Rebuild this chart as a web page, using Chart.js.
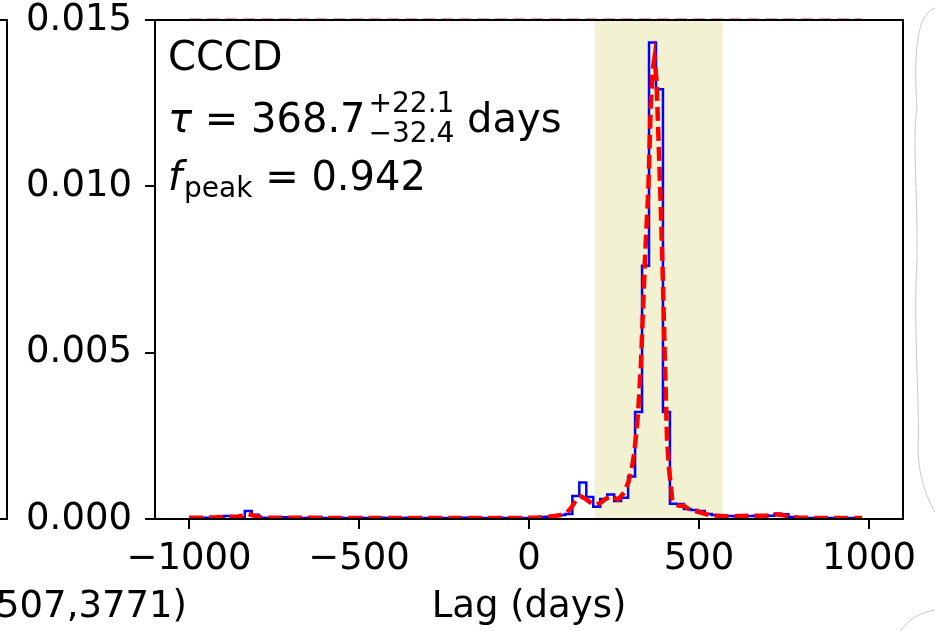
<!DOCTYPE html>
<html>
<head>
<meta charset="utf-8">
<script src="https://cdn.jsdelivr.net/npm/chart.js@4.4.1/dist/chart.umd.min.js"></script>
<style>
  html, body { margin: 0; padding: 0; background: #fff; }
  #wrap { width: 935px; height: 631px; }
</style>
</head>
<body>
<div id="wrap"><canvas id="lagChart" width="935" height="631"></canvas></div>
<script>
// histogram bin centres (days) and density of the CCCD lag distribution
const lagBins = [
  -989.75, -969.25, -948.75, -928.25, -907.75, -887.25, -866.75, -846.25, -825.75, -805.25,
  -784.75, -764.25, -743.75, -723.25, -702.75, -682.25, -661.75, -641.25, -620.75, -600.25,
  -579.75, -559.25, -538.75, -518.25, -497.75, -477.25, -456.75, -436.25, -415.75, -395.25,
  -374.75, -354.25, -333.75, -313.25, -292.75, -272.25, -251.75, -231.25, -210.75, -190.25,
  -169.75, -149.25, -128.75, -108.25, -87.75, -67.25, -46.75, -26.25, -5.75, 14.75,
  35.25, 55.75, 76.25, 96.75, 117.25, 137.75, 158.25, 178.75, 199.25, 219.75,
  240.25, 260.75, 281.25, 301.75, 322.25, 342.75, 363.25, 383.75, 404.25, 424.75,
  445.25, 465.75, 486.25, 506.75, 527.25, 547.75, 568.25, 588.75, 609.25, 629.75,
  650.25, 670.75, 691.25, 711.75, 732.25, 752.75, 773.25, 793.75, 814.25, 834.75,
  855.25, 875.75, 896.25, 916.75, 937.25, 957.75, 978.25
];
const histDensity = [
  0.00003, 0.00003, 0.00004, 0.00003, 0.00004, 0.00009, 0.00004, 0.00005, 0.00024, 0.00013,
  0.00004, 0.00003, 0.00004, 0.00005, 0.00004, 0.00003, 0.00003, 0.00004, 0.00005, 0.00003,
  0.00003, 0.00004, 0.00003, 0.00003, 0.00004, 0.00003, 0.00003, 0.00004, 0.00003, 0.00003,
  0.00003, 0.00004, 0.00003, 0.00003, 0.00003, 0.00004, 0.00003, 0.00003, 0.00003, 0.00004,
  0.00003, 0.00003, 0.00003, 0.00003, 0.00004, 0.00003, 0.00003, 0.00003, 0.00003, 0.00004,
  0.00005, 0.00007, 0.00010, 0.00012, 0.00015, 0.00069, 0.00110, 0.00066, 0.00037, 0.00060,
  0.00074, 0.00054, 0.00064, 0.00128, 0.00322, 0.00761, 0.01432, 0.01292, 0.00322, 0.00046,
  0.00045, 0.00030, 0.00027, 0.00024, 0.00015, 0.00012, 0.00011, 0.00009, 0.00008, 0.00009,
  0.00009, 0.00010, 0.00011, 0.00010, 0.00016, 0.00014, 0.00006, 0.00004, 0.00003, 0.00003,
  0.00003, 0.00003, 0.00003, 0.00003, 0.00003, 0.00003, 0.00003
];
// smoothed curve (red dashed)
const smoothLag = [
  -1000, -960, -920, -890, -860, -840, -825, -810, -790, -760,
  -700, -640, -580, -500, -420, -340, -260, -180, -100, -40,
  20, 60, 90, 110, 125, 140, 152, 165, 180, 191,
  210, 225, 240, 262, 280, 292, 300, 310, 321, 329,
  341, 351, 358, 364, 369, 375, 380, 387, 394, 400,
  406, 412, 421, 430, 441, 455, 470, 490, 510, 530,
  550, 580, 620, 660, 700, 725, 745, 770, 800, 850,
  900, 940, 980
];
const smoothDensity = [
  0.00004, 0.00004, 0.00005, 0.00007, 0.00007, 0.00010, 0.00015, 0.00010, 0.00005, 0.00004,
  0.00004, 0.00004, 0.00003, 0.00003, 0.00003, 0.00003, 0.00003, 0.00003, 0.00003, 0.00003,
  0.00004, 0.00007, 0.00011, 0.00017, 0.00035, 0.00060, 0.00068, 0.00062, 0.00050, 0.00042,
  0.00048, 0.00060, 0.00070, 0.00058, 0.00080, 0.00110, 0.00140, 0.00200, 0.00320, 0.00460,
  0.00780, 0.00990, 0.01240, 0.01350, 0.01386, 0.01320, 0.01170, 0.00960, 0.00710, 0.00460,
  0.00240, 0.00150, 0.00060, 0.00045, 0.00040, 0.00040, 0.00030, 0.00024, 0.00018, 0.00012,
  0.00010, 0.00008, 0.00009, 0.00010, 0.00010, 0.00014, 0.00012, 0.00006, 0.00004, 0.00003,
  0.00003, 0.00003, 0.00003
];
const xTicks = [-1000, -500, 0, 500, 1000];
const yTicks = [0, 0.005, 0.010, 0.015];
const peakWindow = [193, 570];
const panelName = 'CCCD';
const tauValue = ['368.7', '+22.1', '\u221232.4'];
const fPeakValue = '0.942';
const leftPanelLabel = '507,3771)';

const FONT = 'DejaVu Sans';
Chart.defaults.font.family = FONT;

const histPoints = lagBins.map((x, i) => ({ x: x, y: histDensity[i] }));
const smoothPoints = smoothLag.map((x, i) => ({ x: x, y: smoothDensity[i] }));

const decorPlugin = {
  id: 'decor',
  beforeDatasetsDraw(chart) {
    const { ctx, chartArea: a, scales } = chart;
    const x0 = scales.x.getPixelForValue(peakWindow[0]);
    const x1 = scales.x.getPixelForValue(peakWindow[1]);
    ctx.save();
    ctx.fillStyle = 'rgba(188,189,34,0.2)';
    ctx.fillRect(x0, a.top, x1 - x0, a.bottom - a.top);
    ctx.restore();
  },
  afterDatasetsDraw(chart) {
    const { ctx, chartArea: a } = chart;
    const big = '40px ' + FONT, small = '28px ' + FONT;
    ctx.save();
    ctx.fillStyle = '#000';
    ctx.textBaseline = 'alphabetic';
    ctx.textAlign = 'left';
    let x = a.left + 13;
    ctx.font = big;
    ctx.fillText(panelName, x, a.top + 50);

    // tau line
    let y = a.top + 111.5;
    ctx.font = 'italic ' + big;
    ctx.fillText('\u03c4', x, y);
    x += ctx.measureText('\u03c4').width;
    ctx.font = big;
    const mid = ' = ' + tauValue[0];
    ctx.fillText(mid, x, y);
    x += ctx.measureText(mid).width + 3;
    ctx.font = small;
    ctx.fillText(tauValue[1], x, y - 20);
    ctx.fillText(tauValue[2], x, y + 10);
    x += Math.max(ctx.measureText(tauValue[1]).width, ctx.measureText(tauValue[2]).width);
    ctx.font = big;
    ctx.fillText(' days', x, y);

    // f_peak line
    x = a.left + 13;
    y = a.top + 170;
    ctx.font = 'italic ' + big;
    ctx.fillText('f', x, y);
    x += ctx.measureText('f').width + 2;
    ctx.font = small;
    ctx.fillText('peak', x, y + 7);
    x += ctx.measureText('peak').width;
    ctx.font = big;
    ctx.fillText(' = ' + fPeakValue, x, y);
    ctx.restore();
  },
  afterDraw(chart) {
    const { ctx, chartArea: a, scales } = chart;
    ctx.save();
    // upper panel baseline peeking in at the top edge
    ctx.strokeStyle = 'rgba(200,40,40,0.45)';
    ctx.lineWidth = 1;
    ctx.setLineDash([12, 6]);
    ctx.beginPath();
    ctx.moveTo(scales.x.getPixelForValue(-1000), a.top - 1.5);
    ctx.lineTo(scales.x.getPixelForValue(980), a.top - 1.5);
    ctx.stroke();
    ctx.setLineDash([]);
    // spines
    ctx.strokeStyle = '#000';
    ctx.lineWidth = 2;
    ctx.strokeRect(a.left, a.top, a.right - a.left, a.bottom - a.top);
    // neighbouring panel on the left
    ctx.beginPath();
    ctx.moveTo(0, a.top);
    ctx.lineTo(7, a.top);
    ctx.lineTo(7, a.bottom);
    ctx.lineTo(0, a.bottom);
    ctx.stroke();
    ctx.fillStyle = '#000';
    ctx.font = '37px ' + FONT;
    ctx.textAlign = 'right';
    ctx.fillText(leftPanelLabel, 187, 617);
    // torn edge on the right
    ctx.strokeStyle = '#c8c8c8';
    ctx.lineWidth = 1;
    ctx.beginPath();
    ctx.moveTo(935, 8);
    ctx.bezierCurveTo(915, 14, 914, 60, 917, 110);
    ctx.bezierCurveTo(912, 130, 918, 200, 917, 260);
    ctx.bezierCurveTo(913, 330, 920, 400, 918, 450);
    ctx.bezierCurveTo(919, 480, 928, 500, 935, 512);
    ctx.stroke();
    ctx.beginPath();
    ctx.moveTo(900, 631);
    ctx.bezierCurveTo(910, 618, 922, 612, 935, 610);
    ctx.stroke();
    ctx.restore();
  }
};

const tickFont = { family: FONT, size: 37 };

new Chart(document.getElementById('lagChart').getContext('2d'), {
  type: 'line',
  data: {
    datasets: [{
      label: 'smoothed',
      data: smoothPoints,
      borderColor: '#ff0000',
      borderWidth: 4.5,
      borderDash: [14, 6],
      pointRadius: 0,
      fill: false,
      tension: 0
    }, {
      label: 'histogram',
      data: histPoints,
      borderColor: '#0000ff',
      borderWidth: 2.5,
      pointRadius: 0,
      fill: false,
      stepped: 'middle'
    }]
  },
  options: {
    responsive: false,
    animation: false,
    layout: { padding: { top: 20, right: 32, bottom: 0, left: 0 } },
    plugins: { legend: { display: false }, tooltip: { enabled: false } },
    scales: {
      x: {
        type: 'linear',
        min: -1100,
        max: 1100,
        afterBuildTicks(axis) { axis.ticks = xTicks.map(v => ({ value: v })); },
        afterFit(axis) { axis.height = 112; axis.paddingLeft = 0; axis.paddingRight = 0; },
        grid: { display: true, drawOnChartArea: false, drawTicks: true, tickLength: 10, color: '#000', lineWidth: 2 },
        border: { display: true, color: '#000', width: 2 },
        ticks: {
          font: tickFont, color: '#000', padding: 8, maxRotation: 0, autoSkip: false,
          callback: v => String(v).replace('-', '\u2212')
        },
        title: { display: true, text: 'Lag (days)', font: tickFont, color: '#000', padding: { top: 0, bottom: 1 } }
      },
      y: {
        min: 0,
        max: 0.015,
        afterBuildTicks(axis) { axis.ticks = yTicks.map(v => ({ value: v })); },
        afterFit(axis) { axis.width = 155; axis.paddingTop = 0; axis.paddingBottom = 0; },
        grid: { display: true, drawOnChartArea: false, drawTicks: true, tickLength: 10, color: '#000', lineWidth: 2 },
        border: { display: true, color: '#000', width: 2 },
        ticks: { font: tickFont, color: '#000', padding: 13, callback: v => v.toFixed(3) }
      }
    }
  },
  plugins: [decorPlugin]
});
</script>
</body>
</html>
